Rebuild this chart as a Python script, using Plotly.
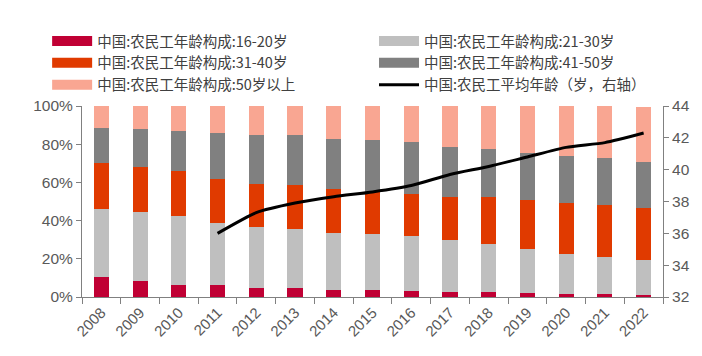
import plotly.graph_objects as go

years = [str(y) for y in range(2008, 2023)]
age_16_20 = [10.7, 8.5, 6.5, 6.3, 4.9, 4.7, 3.5, 3.7, 3.3, 2.6, 2.4, 2.0, 1.6, 1.6, 1.3]
age_21_30 = [35.3, 35.8, 35.9, 32.7, 31.9, 30.8, 30.2, 29.2, 28.6, 27.3, 25.2, 23.1, 21.1, 19.6, 18.2]
age_31_40 = [24.0, 23.6, 23.5, 22.7, 22.5, 22.9, 22.8, 22.3, 22.0, 22.5, 24.5, 25.5, 26.7, 27.0, 27.2]
age_41_50 = [18.6, 19.9, 21.2, 24.0, 25.6, 26.4, 26.4, 26.9, 27.0, 26.3, 25.5, 24.8, 24.2, 24.5, 23.8]
age_50_up = [11.4, 12.2, 12.9, 14.3, 15.1, 15.2, 17.1, 17.9, 19.2, 21.3, 22.4, 24.6, 26.4, 27.3, 29.2]
avg_years = [str(y) for y in range(2011, 2023)]
avg_age = [36.0, 37.3, 37.9, 38.3, 38.6, 39.0, 39.7, 40.2, 40.8, 41.4, 41.7, 42.3]

names = [
    "中国:农民工年龄构成:16-20岁",
    "中国:农民工年龄构成:21-30岁",
    "中国:农民工年龄构成:31-40岁",
    "中国:农民工年龄构成:41-50岁",
    "中国:农民工年龄构成:50岁以上",
]
line_name = "中国:农民工平均年龄（岁，右轴）"
colors = ["#C00034", "#BFBFBF", "#E03A00", "#808080", "#F9A692"]
series = [age_16_20, age_21_30, age_31_40, age_41_50, age_50_up]
legend_ids = ["legend", "legend2", "legend", "legend2", "legend"]

fig = go.Figure()
for nm, col, vals in zip(names, colors, series):
    fig.add_trace(go.Bar(x=years, y=[v / 100 for v in vals], name=nm,
                         marker=dict(color=col, line=dict(width=0)),
                         showlegend=False))
fig.add_trace(go.Scatter(x=avg_years, y=avg_age, yaxis="y2", mode="lines",
                         line=dict(color="black", width=3, shape="spline", smoothing=0.6),
                         showlegend=False, name=line_name))

# legend entries (wide swatches), two columns
for nm, col, lg in zip(names, colors, legend_ids):
    fig.add_trace(go.Scatter(x=[None], y=[None], mode="lines", name=nm, legend=lg,
                             line=dict(color=col, width=10)))
fig.add_trace(go.Scatter(x=[None], y=[None], mode="lines", name=line_name, legend="legend2",
                         line=dict(color="black", width=3)))

legfont = dict(family="Noto Sans CJK SC", size=14.5, color="#404040")
tickfont = dict(family="Liberation Sans, Arial, sans-serif", size=15.5, color="#595959")
# page body has an 8px default margin, so the figure is sized to fit the window
fig.update_layout(
    width=694, height=348,
    margin=dict(l=74, r=39, t=98, b=59),
    paper_bgcolor="white", plot_bgcolor="white",
    barmode="stack", bargap=0.61,
    legend=dict(orientation="v", x=-0.060, xanchor="left", yref="container", y=0.951,
                yanchor="top", traceorder="normal", itemwidth=40, font=legfont,
                bgcolor="rgba(0,0,0,0)", tracegroupgap=0),
    legend2=dict(orientation="v", x=0.5026, xanchor="left", yref="container", y=0.951,
                 yanchor="top", traceorder="normal", itemwidth=40, font=legfont,
                 bgcolor="rgba(0,0,0,0)", tracegroupgap=0),
    xaxis=dict(type="category", tickangle=-45, tickson="boundaries", ticks="outside",
               ticklen=6, tickcolor="#808080", showline=True, linecolor="#808080",
               showgrid=False, automargin=False,
               tickfont=dict(family="Liberation Sans, Arial, sans-serif", size=15, color="#595959")),
    yaxis=dict(range=[0, 1], dtick=0.2, tickformat=".0%", ticks="outside", ticklen=5,
               tickcolor="#808080", showline=True, linecolor="#808080", showgrid=False,
               zeroline=False, automargin=False, tickfont=tickfont),
    yaxis2=dict(range=[32, 44], dtick=2, overlaying="y", side="right", ticks="outside",
                ticklen=5, tickcolor="#808080", showline=True, linecolor="#808080",
                showgrid=False, zeroline=False, automargin=False, tickfont=tickfont),
)
fig.write_html("out.html")
